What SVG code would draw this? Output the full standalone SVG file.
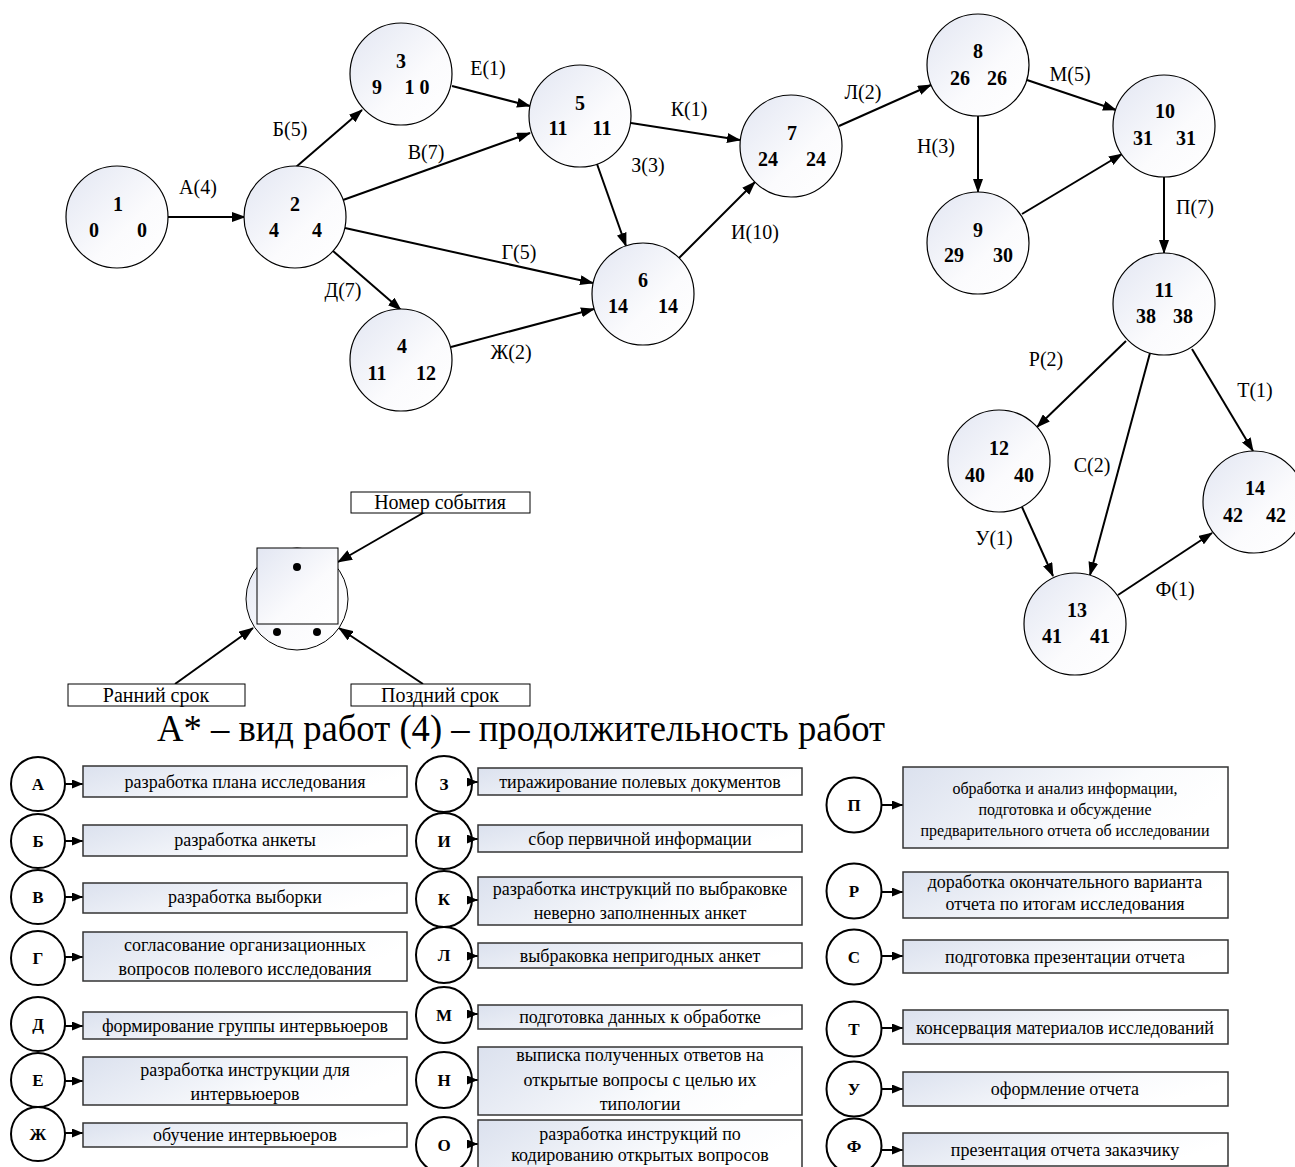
<svg xmlns="http://www.w3.org/2000/svg" width="1295" height="1167" viewBox="0 0 1295 1167">
<defs>
<linearGradient id="ng" x1="0" y1="0" x2="1" y2="1"><stop offset="0" stop-color="#e2e6f2"/><stop offset="0.6" stop-color="#fbfbfd"/><stop offset="1" stop-color="#ffffff"/></linearGradient>
<linearGradient id="bg" x1="0" y1="0" x2="1" y2="0.3"><stop offset="0" stop-color="#dbe1ee"/><stop offset="0.7" stop-color="#fafbfd"/><stop offset="1" stop-color="#ffffff"/></linearGradient>
<marker id="ah" markerWidth="14" markerHeight="10" refX="13" refY="5" orient="auto" markerUnits="userSpaceOnUse"><path d="M0,0L14,5L0,10z" fill="#000"/></marker>
<marker id="ak" markerWidth="15" markerHeight="11" refX="14" refY="5.5" orient="auto" markerUnits="userSpaceOnUse"><path d="M0,0L15,5.5L0,11z" fill="#000"/></marker>
<marker id="as" markerWidth="11" markerHeight="9" refX="11" refY="4.5" orient="auto" markerUnits="userSpaceOnUse"><path d="M0,0L11,4.5L0,9z" fill="#000"/></marker>
</defs>
<style>
.node{fill:url(#ng);stroke:#000;stroke-width:1.2}
.nt{font-family:"Liberation Serif","Times New Roman",serif;font-size:20px;font-weight:bold;text-anchor:middle;fill:#000}
.el{font-family:"Liberation Serif","Times New Roman",serif;font-size:20px;text-anchor:middle;fill:#000}
.edge{stroke:#000;stroke-width:2;fill:none;marker-end:url(#ah)}
.kedge{stroke:#000;stroke-width:2;fill:none;marker-end:url(#ak)}
.lc{fill:#fff;stroke:#000;stroke-width:2}
.lt{font-family:"Liberation Serif","Times New Roman",serif;font-size:17px;font-weight:bold;text-anchor:middle;fill:#000}
.la{stroke:#000;stroke-width:2;fill:none;marker-end:url(#as)}
.lb{fill:url(#bg);stroke:#333;stroke-width:1.5}
.bt{font-family:"Liberation Serif","Times New Roman",serif;font-size:18px;text-anchor:middle;fill:#000}
.kb{fill:#fff;stroke:#000;stroke-width:1}
.kt{font-family:"Liberation Serif","Times New Roman",serif;font-size:20px;text-anchor:middle;fill:#000}
</style>
<rect width="1295" height="1167" fill="#fff"/>

<g id="connectors">
<line class="edge" x1="168" y1="217" x2="245" y2="217"/>
<line class="edge" x1="296" y1="167" x2="362" y2="110"/>
<line class="edge" x1="343" y1="200" x2="530" y2="133"/>
<line class="edge" x1="345" y1="228" x2="593" y2="283"/>
<line class="edge" x1="333" y1="251" x2="401" y2="310"/>
<line class="edge" x1="452" y1="86" x2="530" y2="106"/>
<line class="edge" x1="631" y1="123" x2="740" y2="140"/>
<line class="edge" x1="597" y1="164" x2="626" y2="246"/>
<line class="edge" x1="451" y1="347" x2="594" y2="309"/>
<line class="edge" x1="679" y1="258" x2="755" y2="182"/>
<line class="edge" x1="839" y1="126" x2="931" y2="85"/>
<line class="edge" x1="1027" y1="80" x2="1116" y2="110"/>
<line class="edge" x1="978" y1="116" x2="978" y2="192"/>
<line class="edge" x1="1022" y1="214" x2="1122" y2="154"/>
<line class="edge" x1="1164" y1="177" x2="1164" y2="253"/>
<line class="edge" x1="1126" y1="341" x2="1037" y2="427"/>
<line class="edge" x1="1150" y1="353" x2="1090" y2="575"/>
<line class="edge" x1="1192" y1="349" x2="1253" y2="451"/>
<line class="edge" x1="1022" y1="507" x2="1053" y2="576"/>
<line class="edge" x1="1118" y1="595" x2="1212" y2="533"/>
<line class="kedge" x1="423" y1="513" x2="338" y2="562"/>
<line class="kedge" x1="175" y1="684" x2="253" y2="628"/>
<line class="kedge" x1="423" y1="684" x2="339" y2="628"/>
</g>

<g id="edge-labels">
<text class="el" x="198" y="194">А(4)</text>
<text class="el" x="290" y="136">Б(5)</text>
<text class="el" x="426" y="159">В(7)</text>
<text class="el" x="519" y="259">Г(5)</text>
<text class="el" x="343" y="297">Д(7)</text>
<text class="el" x="488" y="75">Е(1)</text>
<text class="el" x="689" y="116">К(1)</text>
<text class="el" x="648" y="172">З(3)</text>
<text class="el" x="755" y="239">И(10)</text>
<text class="el" x="511" y="359">Ж(2)</text>
<text class="el" x="863" y="99">Л(2)</text>
<text class="el" x="1070" y="81">М(5)</text>
<text class="el" x="936" y="153">Н(3)</text>
<text class="el" x="1195" y="214">П(7)</text>
<text class="el" x="1046" y="366">Р(2)</text>
<text class="el" x="1255" y="397">Т(1)</text>
<text class="el" x="1092" y="472">С(2)</text>
<text class="el" x="994" y="545">У(1)</text>
<text class="el" x="1175" y="596">Ф(1)</text>
</g>

<g id="n1"><circle class="node" cx="117" cy="217" r="51"/><text class="nt" x="118" y="211">1</text><text class="nt" x="94" y="237">0</text><text class="nt" x="142" y="237">0</text></g>
<g id="n2"><circle class="node" cx="295" cy="217" r="51"/><text class="nt" x="295" y="211">2</text><text class="nt" x="274" y="237">4</text><text class="nt" x="317" y="237">4</text></g>
<g id="n3"><circle class="node" cx="401" cy="74" r="51"/><text class="nt" x="401" y="68">3</text><text class="nt" x="377" y="94">9</text><text class="nt" x="417" y="94">1 0</text></g>
<g id="n4"><circle class="node" cx="401" cy="360" r="51"/><text class="nt" x="402" y="353">4</text><text class="nt" x="377" y="380">11</text><text class="nt" x="426" y="380">12</text></g>
<g id="n5"><circle class="node" cx="580" cy="116" r="51"/><text class="nt" x="580" y="110">5</text><text class="nt" x="558" y="135">11</text><text class="nt" x="602" y="135">11</text></g>
<g id="n6"><circle class="node" cx="643" cy="294" r="51"/><text class="nt" x="643" y="287">6</text><text class="nt" x="618" y="313">14</text><text class="nt" x="668" y="313">14</text></g>
<g id="n7"><circle class="node" cx="791" cy="146" r="51"/><text class="nt" x="792" y="140">7</text><text class="nt" x="768" y="166">24</text><text class="nt" x="816" y="166">24</text></g>
<g id="n8"><circle class="node" cx="978" cy="65" r="51"/><text class="nt" x="978" y="58">8</text><text class="nt" x="960" y="85">26</text><text class="nt" x="997" y="85">26</text></g>
<g id="n9"><circle class="node" cx="978" cy="243" r="51"/><text class="nt" x="978" y="237">9</text><text class="nt" x="954" y="262">29</text><text class="nt" x="1003" y="262">30</text></g>
<g id="n10"><circle class="node" cx="1164" cy="126" r="51"/><text class="nt" x="1165" y="118">10</text><text class="nt" x="1143" y="145">31</text><text class="nt" x="1186" y="145">31</text></g>
<g id="n11"><circle class="node" cx="1164" cy="304" r="51"/><text class="nt" x="1164" y="297">11</text><text class="nt" x="1146" y="323">38</text><text class="nt" x="1183" y="323">38</text></g>
<g id="n12"><circle class="node" cx="999" cy="461" r="51"/><text class="nt" x="999" y="455">12</text><text class="nt" x="975" y="482">40</text><text class="nt" x="1024" y="482">40</text></g>
<g id="n13"><circle class="node" cx="1075" cy="624" r="51"/><text class="nt" x="1077" y="617">13</text><text class="nt" x="1052" y="643">41</text><text class="nt" x="1100" y="643">41</text></g>
<g id="n14"><circle class="node" cx="1254" cy="502" r="51"/><text class="nt" x="1255" y="495">14</text><text class="nt" x="1233" y="522">42</text><text class="nt" x="1276" y="522">42</text></g>

<g id="key">
<circle cx="297" cy="599" r="51" fill="url(#ng)" stroke="#000" stroke-width="1"/>
<rect x="257" y="548" width="81" height="76" fill="url(#ng)" stroke="#000" stroke-width="1"/>
<circle cx="297" cy="567" r="4" fill="#000"/>
<circle cx="277" cy="632" r="4" fill="#000"/>
<circle cx="317" cy="632" r="4" fill="#000"/>
<rect class="kb" x="351" y="492" width="179" height="21"/>
<text class="kt" x="440" y="509">Номер события</text>
<rect class="kb" x="68" y="684" width="177" height="22"/>
<text class="kt" x="156" y="702">Ранний срок</text>
<rect class="kb" x="351" y="684" width="179" height="22"/>
<text class="kt" x="440" y="702">Поздний срок</text>
</g>

<text id="title" x="157" y="741" font-family="Liberation Serif, Times New Roman, serif" font-size="38" textLength="728" lengthAdjust="spacingAndGlyphs">А* – вид работ (4) – продолжительность работ</text>

<g id="leg-A"><circle class="lc" cx="38" cy="784" r="27"/><text class="lt" x="38" y="790">А</text><line class="la" x1="65" y1="784" x2="83" y2="784"/><rect class="lb" x="83" y="766" width="324" height="31"/><text class="bt" x="245" y="788">разработка плана исследования</text></g>
<g id="leg-B"><circle class="lc" cx="38" cy="841" r="27"/><text class="lt" x="38" y="847">Б</text><line class="la" x1="65" y1="841" x2="83" y2="841"/><rect class="lb" x="83" y="825" width="324" height="31"/><text class="bt" x="245" y="846">разработка анкеты</text></g>
<g id="leg-V"><circle class="lc" cx="38" cy="897" r="27"/><text class="lt" x="38" y="903">В</text><line class="la" x1="65" y1="897" x2="83" y2="897"/><rect class="lb" x="83" y="883" width="324" height="30"/><text class="bt" x="245" y="903">разработка выборки</text></g>
<g id="leg-G"><circle class="lc" cx="38" cy="958" r="27"/><text class="lt" x="38" y="964">Г</text><line class="la" x1="65" y1="957" x2="83" y2="957"/><rect class="lb" x="83" y="932" width="324" height="49"/><text class="bt" x="245" y="951">согласование организационных</text><text class="bt" x="245" y="975">вопросов полевого исследования</text></g>
<g id="leg-D"><circle class="lc" cx="38" cy="1024" r="27"/><text class="lt" x="38" y="1030">Д</text><line class="la" x1="65" y1="1026" x2="83" y2="1026"/><rect class="lb" x="83" y="1012" width="324" height="27"/><text class="bt" x="245" y="1032">формирование группы интервьюеров</text></g>
<g id="leg-E"><circle class="lc" cx="38" cy="1080" r="27"/><text class="lt" x="38" y="1086">Е</text><line class="la" x1="65" y1="1081" x2="83" y2="1081"/><rect class="lb" x="83" y="1057" width="324" height="48"/><text class="bt" x="245" y="1076">разработка инструкции для</text><text class="bt" x="245" y="1100">интервьюеров</text></g>
<g id="leg-ZH"><circle class="lc" cx="38" cy="1134" r="27"/><text class="lt" x="38" y="1140">Ж</text><line class="la" x1="65" y1="1133" x2="83" y2="1133"/><rect class="lb" x="83" y="1123" width="324" height="24"/><text class="bt" x="245" y="1141">обучение интервьюеров</text></g>

<g id="leg-Z"><circle class="lc" cx="444" cy="784" r="28"/><text class="lt" x="444" y="790">З</text><line class="la" x1="468" y1="782" x2="478" y2="782"/><rect class="lb" x="478" y="768" width="324" height="27"/><text class="bt" x="640" y="788">тиражирование полевых документов</text></g>
<g id="leg-I"><circle class="lc" cx="444" cy="841" r="28"/><text class="lt" x="444" y="847">И</text><line class="la" x1="468" y1="839" x2="478" y2="839"/><rect class="lb" x="478" y="825" width="324" height="27"/><text class="bt" x="640" y="845">сбор первичной информации</text></g>
<g id="leg-K"><circle class="lc" cx="444" cy="899" r="28"/><text class="lt" x="444" y="905">К</text><line class="la" x1="468" y1="900" x2="478" y2="900"/><rect class="lb" x="478" y="877" width="324" height="48"/><text class="bt" x="640" y="895">разработка инструкций по выбраковке</text><text class="bt" x="640" y="919">неверно заполненных анкет</text></g>
<g id="leg-L"><circle class="lc" cx="444" cy="955" r="28"/><text class="lt" x="444" y="961">Л</text><line class="la" x1="468" y1="956" x2="478" y2="956"/><rect class="lb" x="478" y="943" width="324" height="25"/><text class="bt" x="640" y="962">выбраковка непригодных анкет</text></g>
<g id="leg-M"><circle class="lc" cx="444" cy="1015" r="28"/><text class="lt" x="444" y="1021">М</text><line class="la" x1="468" y1="1014" x2="478" y2="1014"/><rect class="lb" x="478" y="1005" width="324" height="24"/><text class="bt" x="640" y="1023">подготовка данных к обработке</text></g>
<g id="leg-N"><circle class="lc" cx="444" cy="1080" r="28"/><text class="lt" x="444" y="1086">Н</text><line class="la" x1="468" y1="1080" x2="478" y2="1080"/><rect class="lb" x="478" y="1047" width="324" height="68"/><text class="bt" x="640" y="1061">выписка полученных ответов на</text><text class="bt" x="640" y="1086">открытые вопросы с целью их</text><text class="bt" x="640" y="1110">типологии</text></g>
<g id="leg-O"><circle class="lc" cx="444" cy="1145" r="28"/><text class="lt" x="444" y="1151">О</text><line class="la" x1="468" y1="1144" x2="478" y2="1144"/><rect class="lb" x="478" y="1120" width="324" height="56"/><text class="bt" x="640" y="1140">разработка инструкций по</text><text class="bt" x="640" y="1161">кодированию открытых вопросов</text></g>

<g id="leg-P"><circle class="lc" cx="854" cy="805" r="27.5"/><text class="lt" x="854" y="811">П</text><line class="la" x1="882" y1="805" x2="903" y2="805"/><rect class="lb" x="903" y="767" width="325" height="81"/><text class="bt" x="1065" y="794" style="font-size:16px">обработка и анализ информации,</text><text class="bt" x="1065" y="815" style="font-size:16px">подготовка и обсуждение</text><text class="bt" x="1065" y="836" style="font-size:16px">предварительного отчета об исследовании</text></g>
<g id="leg-R"><circle class="lc" cx="854" cy="891" r="27.5"/><text class="lt" x="854" y="897">Р</text><line class="la" x1="882" y1="892" x2="903" y2="892"/><rect class="lb" x="903" y="872" width="325" height="46"/><text class="bt" x="1065" y="888">доработка окончательного варианта</text><text class="bt" x="1065" y="910">отчета по итогам исследования</text></g>
<g id="leg-S"><circle class="lc" cx="854" cy="957" r="27.5"/><text class="lt" x="854" y="963">С</text><line class="la" x1="882" y1="956" x2="903" y2="956"/><rect class="lb" x="903" y="940" width="325" height="33"/><text class="bt" x="1065" y="963">подготовка презентации отчета</text></g>
<g id="leg-T"><circle class="lc" cx="854" cy="1029" r="27.5"/><text class="lt" x="854" y="1035">Т</text><line class="la" x1="882" y1="1028" x2="903" y2="1028"/><rect class="lb" x="903" y="1010" width="325" height="34"/><text class="bt" x="1065" y="1034">консервация материалов исследований</text></g>
<g id="leg-U"><circle class="lc" cx="854" cy="1089" r="27.5"/><text class="lt" x="854" y="1095">У</text><line class="la" x1="882" y1="1089" x2="903" y2="1089"/><rect class="lb" x="903" y="1072" width="325" height="34"/><text class="bt" x="1065" y="1095">оформление отчета</text></g>
<g id="leg-F"><circle class="lc" cx="854" cy="1146" r="27.5"/><text class="lt" x="854" y="1152">Ф</text><line class="la" x1="882" y1="1150" x2="903" y2="1150"/><rect class="lb" x="903" y="1133" width="325" height="33"/><text class="bt" x="1065" y="1156">презентация отчета заказчику</text></g>
</svg>
